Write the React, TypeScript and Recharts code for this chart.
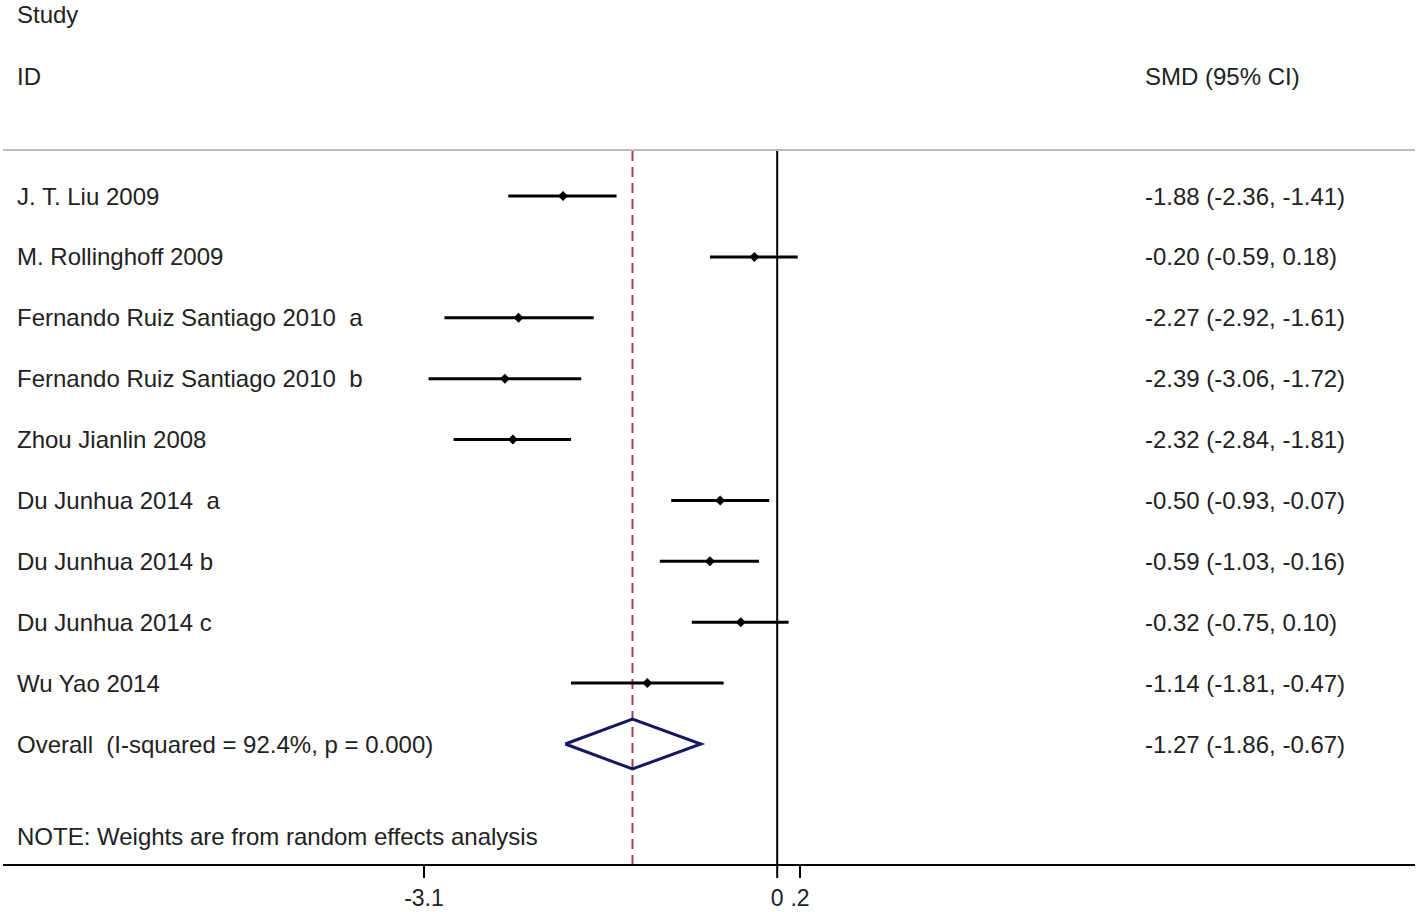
import { ScatterChart, Scatter, XAxis, YAxis, ErrorBar, ReferenceLine } from 'recharts'

const studies = [
  'J. T. Liu 2009',
  'M. Rollinghoff 2009',
  'Fernando Ruiz Santiago 2010  a',
  'Fernando Ruiz Santiago 2010  b',
  'Zhou Jianlin 2008',
  'Du Junhua 2014  a',
  'Du Junhua 2014 b',
  'Du Junhua 2014 c',
  'Wu Yao 2014',
]
const smd = [-1.88, -0.2, -2.27, -2.39, -2.32, -0.5, -0.59, -0.32, -1.14]
const ciLow = [-2.36, -0.59, -2.92, -3.06, -2.84, -0.93, -1.03, -0.75, -1.81]
const ciHigh = [-1.41, 0.18, -1.61, -1.72, -1.81, -0.07, -0.16, 0.1, -0.47]

const overallLabel = 'Overall  (I-squared = 92.4%, p = 0.000)'
const overallSmd = -1.27
const overallLow = -1.86
const overallHigh = -0.67

const xTicks = [-3.1, 0, 0.2]
const xTickLabels = ['-3.1', '0', '.2']

const FONT = '"Liberation Sans", Arial, sans-serif'
const TEXT = '#222'
const DIAMOND_H = 0.41

const rows = smd.map((v, i) => ({
  x: v,
  y: i,
  err: [v - ciLow[i], ciHigh[i] - v],
}))

const overallRow = studies.length
const diamond = [
  { x: overallLow, y: overallRow },
  { x: overallSmd, y: overallRow - DIAMOND_H },
  { x: overallHigh, y: overallRow },
  { x: overallSmd, y: overallRow + DIAMOND_H },
  { x: overallLow, y: overallRow },
]
const overallPoint = [{ x: overallSmd, y: overallRow }]

const labels = [...studies, overallLabel]
const estimates = [
  ...smd.map((v, i) => `${v.toFixed(2)} (${ciLow[i].toFixed(2)}, ${ciHigh[i].toFixed(2)})`),
  `${overallSmd.toFixed(2)} (${overallLow.toFixed(2)}, ${overallHigh.toFixed(2)})`,
]

const RowText = ({ i, cy }: { i: number; cy: number }) => (
  <g>
    <text x={17} y={cy} dominantBaseline="central" fontSize={24} fill={TEXT} fontFamily={FONT} style={{ whiteSpace: 'pre' }}>
      {labels[i]}
    </text>
    <text x={1145} y={cy} dominantBaseline="central" fontSize={24} fill={TEXT} fontFamily={FONT}>
      {estimates[i]}
    </text>
  </g>
)

const Marker = (props: any) => {
  const { cx, cy, payload } = props
  return (
    <g>
      <RowText i={payload.y} cy={cy} />
      <polygon points={`${cx - 5},${cy} ${cx},${cy - 5} ${cx + 5},${cy} ${cx},${cy + 5}`} fill="#000" />
    </g>
  )
}

const OverallText = (props: any) => <RowText i={props.payload.y} cy={props.cy} />

const XTick = (props: any) => {
  const { x, y, payload } = props
  const idx = xTicks.indexOf(payload.value)
  return (
    <text x={x} y={y + 18} textAnchor="middle" dominantBaseline="central" fontSize={23} fill={TEXT} fontFamily={FONT}>
      {xTickLabels[idx]}
    </text>
  )
}

export default function App() {
  return (
    <div style={{ position: 'absolute', left: 0, top: 0, width: 1418, height: 912, background: '#fff' }}>
      <ScatterChart width={1418} height={912} margin={{ top: 149, right: 3, bottom: 7, left: 3 }}>
        <XAxis
          type="number"
          dataKey="x"
          domain={[-6.795, 5.598]}
          allowDataOverflow
          ticks={xTicks}
          interval={0}
          height={40}
          tickSize={13}
          axisLine={{ stroke: '#000', strokeWidth: 2 }}
          tickLine={{ stroke: '#000', strokeWidth: 2 }}
          tick={<XTick />}
        />
        <XAxis
          xAxisId="top"
          orientation="top"
          type="number"
          dataKey="x"
          domain={[-6.795, 5.598]}
          allowDataOverflow
          height={1}
          tick={false}
          tickLine={false}
          axisLine={{ stroke: '#bdbdbd', strokeWidth: 2 }}
        />
        <YAxis
          type="number"
          dataKey="y"
          domain={[-0.7555, 10.987]}
          allowDataOverflow
          reversed
          hide
        />
        <ReferenceLine x={0} stroke="#000" strokeWidth={2} />
        <ReferenceLine x={overallSmd} stroke="#a8404c" strokeWidth={2} strokeDasharray="10 6" />
        <Scatter data={rows} shape={<Marker />} isAnimationActive={false}>
          <ErrorBar dataKey="err" direction="x" width={0} stroke="#000" strokeWidth={3} isAnimationActive={false} />
        </Scatter>
        <Scatter
          data={diamond}
          line={{ stroke: '#15185f', strokeWidth: 3 }}
          lineType="joint"
          shape={() => <g />}
          isAnimationActive={false}
        />
        <Scatter data={overallPoint} shape={<OverallText />} isAnimationActive={false} />
      </ScatterChart>
      <svg width={1418} height={912} style={{ position: 'absolute', left: 0, top: 0, pointerEvents: 'none' }}>
        <text x={17} y={14} dominantBaseline="central" fontSize={24} fill={TEXT} fontFamily={FONT}>Study</text>
        <text x={17} y={76} dominantBaseline="central" fontSize={24} fill={TEXT} fontFamily={FONT}>ID</text>
        <text x={1145} y={76} dominantBaseline="central" fontSize={24} fill={TEXT} fontFamily={FONT}>SMD (95% CI)</text>
        <text x={17} y={836} dominantBaseline="central" fontSize={24} fill={TEXT} fontFamily={FONT}>
          NOTE: Weights are from random effects analysis
        </text>
      </svg>
    </div>
  )
}
